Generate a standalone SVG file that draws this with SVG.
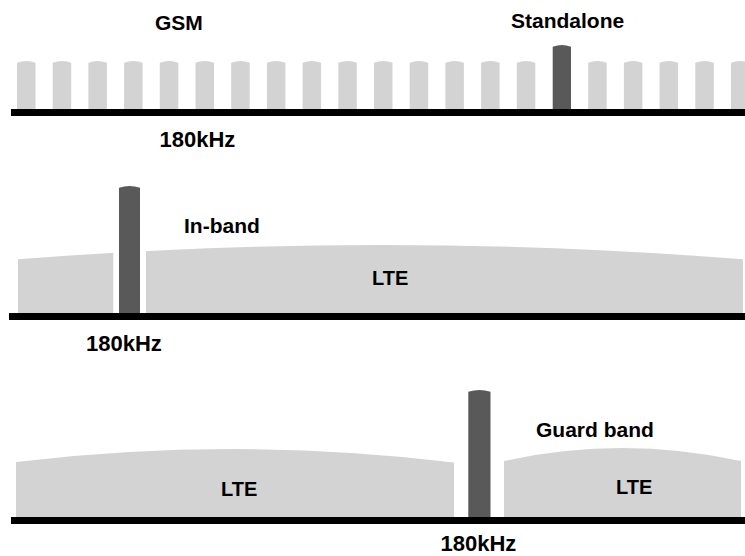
<svg xmlns="http://www.w3.org/2000/svg" width="745" height="556" viewBox="0 0 745 556">
<style>
.base{fill:#000}
.lte{fill:#d3d3d3}
.gsm{fill:#d3d3d3}
.nb{fill:#595959}
text{font-family:"Liberation Sans",Arial,sans-serif;font-weight:bold;fill:#000}
.lbl{font-size:21px}
.lt{font-size:20px}
</style>
<defs>
<path id="gbar" d="M0,48 V1.8 Q9.25,-1.6 18.5,1.8 V48 Z"/>
<clipPath id="inbandClip">
<rect x="18" y="200" width="95.3" height="120"/>
<rect x="146" y="200" width="600" height="120"/>
</clipPath>
</defs>

<g id="standalone-panel">
<g id="gsm-carriers" class="gsm">
<use href="#gbar" x="17" y="61"/>
<use href="#gbar" x="52.7" y="61"/>
<use href="#gbar" x="88.4" y="61"/>
<use href="#gbar" x="124.1" y="61"/>
<use href="#gbar" x="159.8" y="61"/>
<use href="#gbar" x="195.5" y="61"/>
<use href="#gbar" x="231.2" y="61"/>
<use href="#gbar" x="266.9" y="61"/>
<use href="#gbar" x="302.6" y="61"/>
<use href="#gbar" x="338.3" y="61"/>
<use href="#gbar" x="374" y="61"/>
<use href="#gbar" x="409.7" y="61"/>
<use href="#gbar" x="445.4" y="61"/>
<use href="#gbar" x="481.1" y="61"/>
<use href="#gbar" x="516.8" y="61"/>
<use href="#gbar" x="588.2" y="61"/>
<use href="#gbar" x="623.9" y="61"/>
<use href="#gbar" x="659.6" y="61"/>
<use href="#gbar" x="695.3" y="61"/>
<use href="#gbar" x="731" y="61"/>
</g>
<g id="standalone-nb"><path class="nb" d="M552.7,109 V46.8 Q561.9,43.4 571,46.8 V109 Z"/></g>
<rect class="base" x="11" y="109" width="740" height="7"/>
<text class="lbl" x="155" y="30">GSM</text>
<text class="lbl" x="511" y="28">Standalone</text>
<text class="lbl" x="159.5" y="146.7" style="font-size:22px">180kHz</text>
</g>

<g id="inband-panel">
<path class="lte" clip-path="url(#inbandClip)" d="M18,313 V259.3 Q380.5,230.7 743,259.3 V313 Z"/>
<g id="inband-nb"><path class="nb" d="M119,313 V187.8 Q129.5,184.4 140,187.8 V313 Z"/></g>
<rect class="base" x="9" y="313" width="740" height="7"/>
<text class="lbl" x="184" y="233">In-band</text>
<text class="lt" x="372" y="285">LTE</text>
<text class="lbl" x="86" y="350.5" style="font-size:22px">180kHz</text>
</g>

<g id="guardband-panel">
<path class="lte" d="M16,517 V462 Q235,436 454,462.5 V517 Z"/>
<path class="lte" d="M504,517 V461 Q622,435 741,461 V517 Z"/>
<g id="guard-nb"><path class="nb" d="M468.3,517 V391.8 Q479.4,388.4 490.5,391.8 V517 Z"/></g>
<rect class="base" x="11" y="517" width="740" height="7"/>
<text class="lbl" x="536" y="436.7">Guard band</text>
<text class="lt" x="221" y="496">LTE</text>
<text class="lt" x="616" y="493.5">LTE</text>
<text class="lbl" x="440.5" y="551" style="font-size:22px">180kHz</text>
</g>
</svg>
